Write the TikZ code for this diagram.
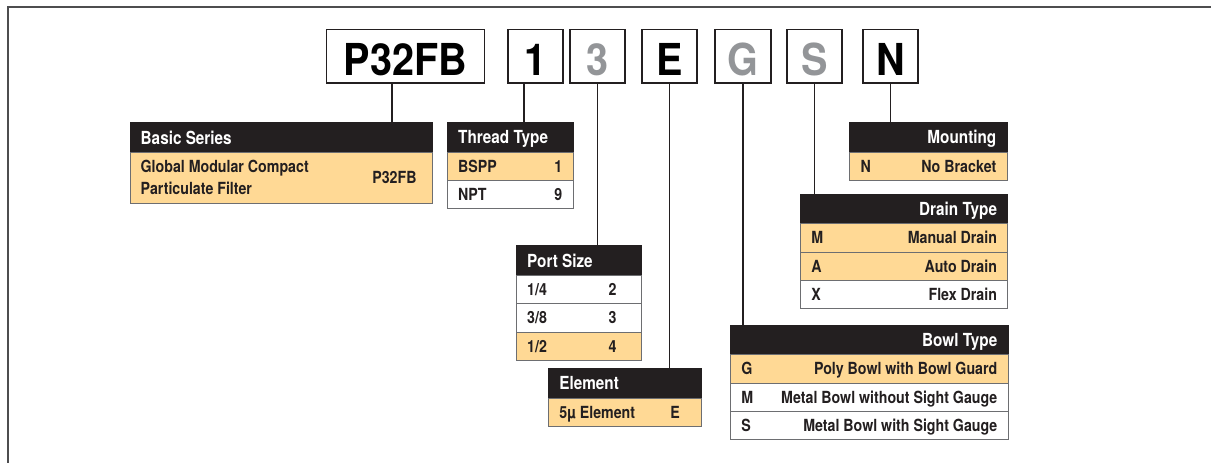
\documentclass[tikz,border=0pt]{standalone}
\usepackage{fontspec}
\usepackage{xcolor}
\usepackage{tikz}
\newfontfamily\herosfam[FakeStretch=0.85]{TeX Gyre Heros}
\newfontfamily\herosbig[FakeStretch=0.9]{TeX Gyre Heros}
\newcommand\cellfont{\herosfam\bfseries\fontsize{16.7}{22}\selectfont}
\newcommand\hdrfont{\herosfam\bfseries\fontsize{18}{22}\selectfont}
\newcommand\letterfont{\herosbig\bfseries\fontsize{44}{48}\selectfont}
\definecolor{tabInk}{HTML}{231F20}
\definecolor{tabPeach}{HTML}{FFD995}
\definecolor{tabRule}{HTML}{6D6E71}
\definecolor{codeGrey}{HTML}{939598}
\definecolor{frameGrey}{HTML}{4D4D4F}

\begin{document}
\begin{tikzpicture}[x=1pt, y=-1pt,
  frame/.style={draw=frameGrey, line width=1.3pt},
  codebox/.style={draw=tabInk, line width=1.7pt, fill=white, inner sep=0, minimum height=53.5pt, font=\letterfont, text height=37.7pt, text depth=0pt},
  link/.style={draw=tabInk, line width=1.6pt},
  hdr/.style={draw=tabInk, fill=tabInk, line width=0.8pt, anchor=north west, outer sep=0, inner sep=0, minimum height=29.8pt},
  rowhl/.style={draw=tabRule, fill=tabPeach, line width=0.8pt, anchor=north west, outer sep=0, inner sep=0, minimum height=28.3pt},
  rowpl/.style={rowhl, fill=white},
  lab/.style={font=\cellfont, text=tabInk, inner sep=0, text height=12pt, text depth=0pt},
  hlab/.style={font=\hdrfont, text=white, inner sep=0, text height=13pt, text depth=0pt}]
\useasboundingbox (0,0) rectangle (1211,463);
\draw[frame] (8,463) -- (8,7) -- (1211,7);
\node[codebox, minimum width=158pt] (cP) at (405.5,56.2) {P32FB};
\node[codebox, minimum width=55pt] (c1) at (535.5,56.2) {1};
\node[codebox, minimum width=55pt, text=codeGrey] (c3) at (597.5,56.2) {3};
\node[codebox, minimum width=55pt] (cE) at (669.5,56.2) {E};
\node[codebox, minimum width=56pt, text=codeGrey] (cG) at (743,56.2) {G};
\node[codebox, minimum width=55pt, text=codeGrey] (cS) at (814.5,56.2) {S};
\node[codebox, minimum width=55pt] (cN) at (890.5,56.2) {N};
\node[hdr, minimum width=302.7pt] (bsh) at (130,122.7) {};
\node[rowhl, minimum width=302.7pt, minimum height=50.5pt] (bs1) at (bsh.south west) {};
\node[hlab, anchor=west] at ([xshift=10.5pt]bsh.west) {Basic Series};
\node[font=\cellfont, text=tabInk, inner sep=0, anchor=west, align=left] at ([xshift=10.5pt]bs1.west) {Global Modular Compact\\Particulate Filter};
\node[lab, anchor=east] at ([xshift=-16pt]bs1.east) {P32FB};
\node[hdr, minimum width=126pt] (tth) at (447.5,122.3) {};
\node[rowhl, minimum width=126pt, minimum height=28pt] (tt1) at (tth.south west) {};
\node[rowpl, minimum width=126pt, minimum height=28pt] (tt2) at (tt1.south west) {};
\node[hlab, anchor=west] at ([xshift=10.5pt]tth.west) {Thread Type};
\node[lab, anchor=west] at ([xshift=10.5pt]tt1.west) {BSPP};
\node[lab, anchor=east] at ([xshift=-11pt]tt1.east) {1};
\node[lab, anchor=west] at ([xshift=10.5pt]tt2.west) {NPT};
\node[lab, anchor=east] at ([xshift=-11pt]tt2.east) {9};
\node[hdr, minimum width=124.5pt] (psh) at (516.5,245.7) {};
\node[rowpl, minimum width=124.5pt] (ps1) at (psh.south west) {};
\node[rowpl, minimum width=124.5pt] (ps2) at (ps1.south west) {};
\node[rowhl, minimum width=124.5pt] (ps3) at (ps2.south west) {};
\node[hlab, anchor=west] at ([xshift=10.5pt]psh.west) {Port Size};
\node[lab, anchor=west] at ([xshift=10.5pt]ps1.west) {1/4};
\node[lab, anchor=west] at ([xshift=92pt]ps1.west) {2};
\node[lab, anchor=west] at ([xshift=10.5pt]ps2.west) {3/8};
\node[lab, anchor=west] at ([xshift=92pt]ps2.west) {3};
\node[lab, anchor=west] at ([xshift=10.5pt]ps3.west) {1/2};
\node[lab, anchor=west] at ([xshift=92pt]ps3.west) {4};
\node[hdr, minimum width=152.6pt] (elh) at (548.7,368.3) {};
\node[rowhl, minimum width=152.6pt] (el1) at (elh.south west) {};
\node[hlab, anchor=west] at ([xshift=10.5pt]elh.west) {Element};
\node[lab, anchor=west] at ([xshift=10.5pt]el1.west) {5µ Element};
\node[lab, anchor=west] at ([xshift=121.5pt]el1.west) {E};
\node[hdr, minimum width=157.7pt] (mth) at (849.3,122.3) {};
\node[rowhl, minimum width=157.7pt, minimum height=28pt] (mt1) at (mth.south west) {};
\node[hlab, anchor=east] at ([xshift=-10.5pt]mth.east) {Mounting};
\node[lab, anchor=west] at ([xshift=11pt]mt1.west) {N};
\node[lab, anchor=east] at ([xshift=-10.5pt]mt1.east) {No Bracket};
\node[hdr, minimum width=207pt] (drh) at (800.7,194) {};
\node[rowhl, minimum width=207pt] (dr1) at (drh.south west) {};
\node[rowhl, minimum width=207pt] (dr2) at (dr1.south west) {};
\node[rowpl, minimum width=207pt] (dr3) at (dr2.south west) {};
\node[hlab, anchor=east] at ([xshift=-10.5pt]drh.east) {Drain Type};
\node[lab, anchor=west] at ([xshift=10.5pt]dr1.west) {M};
\node[lab, anchor=east] at ([xshift=-10.5pt]dr1.east) {Manual Drain};
\node[lab, anchor=west] at ([xshift=10.5pt]dr2.west) {A};
\node[lab, anchor=east] at ([xshift=-10.5pt]dr2.east) {Auto Drain};
\node[lab, anchor=west] at ([xshift=10.5pt]dr3.west) {X};
\node[lab, anchor=east] at ([xshift=-10.5pt]dr3.east) {Flex Drain};
\node[hdr, minimum width=277.3pt] (bwh) at (730.7,325) {};
\node[rowhl, minimum width=277.3pt] (bw1) at (bwh.south west) {};
\node[rowpl, minimum width=277.3pt] (bw2) at (bw1.south west) {};
\node[rowpl, minimum width=277.3pt] (bw3) at (bw2.south west) {};
\node[hlab, anchor=east] at ([xshift=-10.5pt]bwh.east) {Bowl Type};
\node[lab, anchor=west] at ([xshift=10.5pt]bw1.west) {G};
\node[lab, anchor=east] at ([xshift=-10.5pt]bw1.east) {Poly Bowl with Bowl Guard};
\node[lab, anchor=west] at ([xshift=10.5pt]bw2.west) {M};
\node[lab, anchor=east] at ([xshift=-10.5pt]bw2.east) {Metal Bowl without Sight Gauge};
\node[lab, anchor=west] at ([xshift=10.5pt]bw3.west) {S};
\node[lab, anchor=east] at ([xshift=-10.5pt]bw3.east) {Metal Bowl with Sight Gauge};
\coordinate (pTap) at ([xshift=-13.8pt]cP.south);
\coordinate (oneTap) at ([xshift=-11.5pt]c1.south);
\draw[link] (pTap) -- (pTap |- bsh.north);
\draw[link] (oneTap) -- (oneTap |- tth.north);
\draw[link] (c3.south) -- (c3.south |- psh.north);
\draw[link] (cE.south) -- (cE.south |- elh.north);
\draw[link] (cG.south) -- (cG.south |- bwh.north);
\draw[link] (cS.south) -- (cS.south |- drh.north);
\draw[link] (cN.south) -- (cN.south |- mth.north);
\end{tikzpicture}
\end{document}
